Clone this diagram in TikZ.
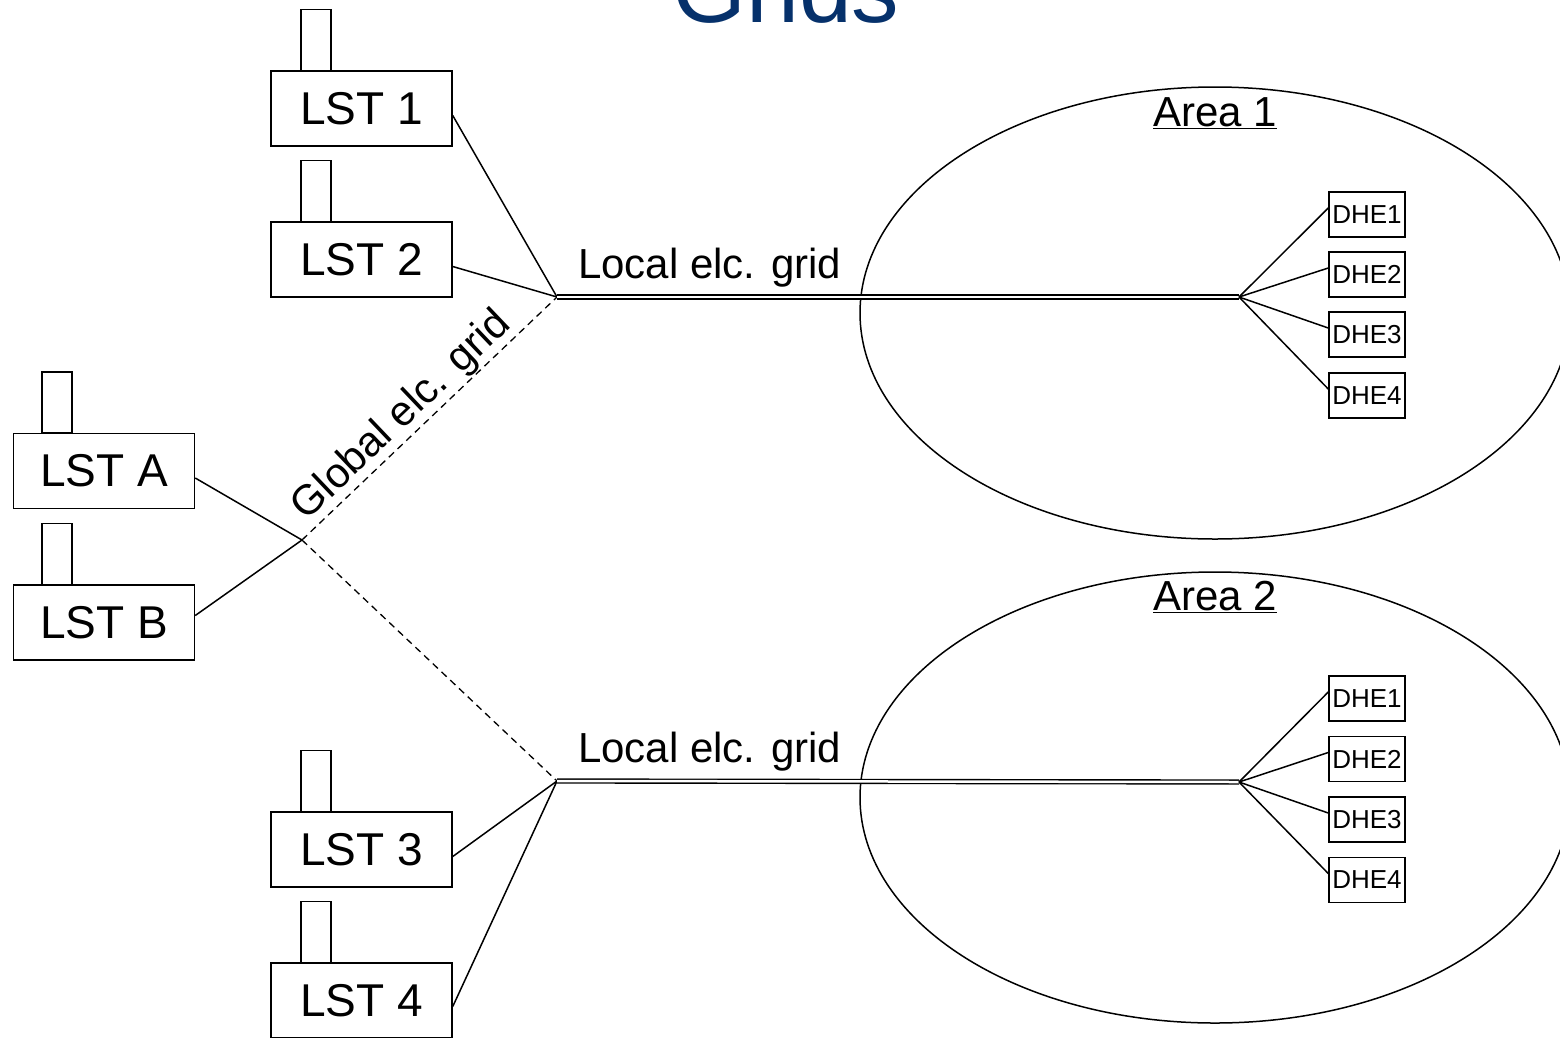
\documentclass[tikz,border=0pt]{standalone}
\usepackage{fontspec}
\setmainfont{Liberation Sans}
\definecolor{titleblue}{HTML}{06316B}
\begin{document}
\begin{tikzpicture}[x=1pt,y=-1pt,
  lstbox/.style={draw, line width=1.5pt, minimum width=181pt, minimum height=75pt, inner sep=0pt, font=\fontsize{46}{50}\selectfont},
  chimney/.style={draw, line width=1.5pt, minimum width=30pt, minimum height=61pt, inner sep=0pt, anchor=south},
  dhebox/.style={draw, line width=1.5pt, minimum width=76pt, minimum height=45pt, inner sep=0pt, font=\fontsize{26}{30}\selectfont},
  wire/.style={line width=1.5pt},
  gwire/.style={line width=1.3pt, dash pattern=on 7pt off 5pt},
  grid2/.style={double, double distance=2.5pt, line width=1.4pt},
  lbl/.style={font=\fontsize{42}{48}\selectfont, inner sep=0pt}]
\useasboundingbox (0,0) rectangle (1560,1037);
\clip (0,0) rectangle (1560,1037);
% title
\node[anchor=base, text=titleblue, font=\fontsize{95}{100}\selectfont, inner sep=0pt] (title) at (786,22) {Grids};
% ellipses
\draw[line width=1.5pt] (1215,313) ellipse [x radius=355pt, y radius=226pt];
\draw[line width=1.5pt] (1215,797.5) ellipse [x radius=355pt, y radius=225.5pt];
\node[lbl, anchor=base west] (a1) at (1153,126) {\underline{Area 1}};
\node[lbl, anchor=base west] (a2) at (1153,610) {\underline{Area 2}};
% LST boxes
\node[lstbox] (l1) at (361.5,108.5) {LST 1};
\node[lstbox] (l2) at (361.5,259.5) {LST 2};
\node[lstbox] (la) at (104,471) {LST A};
\node[lstbox] (lb) at (104,622.5) {LST B};
\node[lstbox] (l3) at (361.5,849.5) {LST 3};
\node[lstbox] (l4) at (361.5,1000.5) {LST 4};
\node[chimney] (c1) at (316,71) {};
\node[chimney] (c2) at (316,222) {};
\node[chimney] (ca) at (57,433.5) {};
\node[chimney] (cb) at (57,585) {};
\node[chimney] (c3) at (316,812) {};
\node[chimney] (c4) at (316,963) {};
% junctions
\coordinate (h1) at (557,297);
\coordinate (h2) at (557,781);
\coordinate (x) at (302,540);
\coordinate (f1) at (1239,297);
\coordinate (f2) at (1239,782);
% DHE boxes
\node[dhebox] (d11) at (1367,214.5) {DHE1};
\node[dhebox] (d12) at (1367,274.5) {DHE2};
\node[dhebox] (d13) at (1367,334.5) {DHE3};
\node[dhebox] (d14) at (1367,395.5) {DHE4};
\node[dhebox] (d21) at (1367,698.5) {DHE1};
\node[dhebox] (d22) at (1367,759) {DHE2};
\node[dhebox] (d23) at (1367,819.5) {DHE3};
\node[dhebox] (d24) at (1367,880) {DHE4};
% connectors
\draw[wire] ([yshift=-7pt]l1.east) -- (h1);
\draw[wire] ([yshift=-7pt]l2.east) -- (h1);
\draw[wire] ([yshift=-7pt]l3.east) -- (h2);
\draw[wire] ([yshift=-6pt]l4.east) -- (h2);
\draw[wire] ([yshift=-7pt]la.east) -- (x);
\draw[wire] ([yshift=7pt]lb.east) -- (x);
\draw[gwire] (x) -- (h1);
\draw[gwire] (x) -- (h2);
\draw[grid2] (h1) -- (f1);
\draw[grid2] (h2) -- (f2);
\foreach \d in {d11,d12,d13,d14} \draw[wire] (f1) -- ([yshift=6.5pt]\d.west);
\foreach \d in {d21,d22,d23,d24} \draw[wire] (f2) -- ([yshift=6.5pt]\d.west);
% labels
\node[lbl, anchor=base west] (g1) at (578,278) {Local elc. grid};
\node[lbl, anchor=base west] (g2) at (578,762) {Local elc. grid};
\node[lbl, rotate=43.6] (gg) at (402,416) {Global elc. grid};
\end{tikzpicture}
\end{document}
